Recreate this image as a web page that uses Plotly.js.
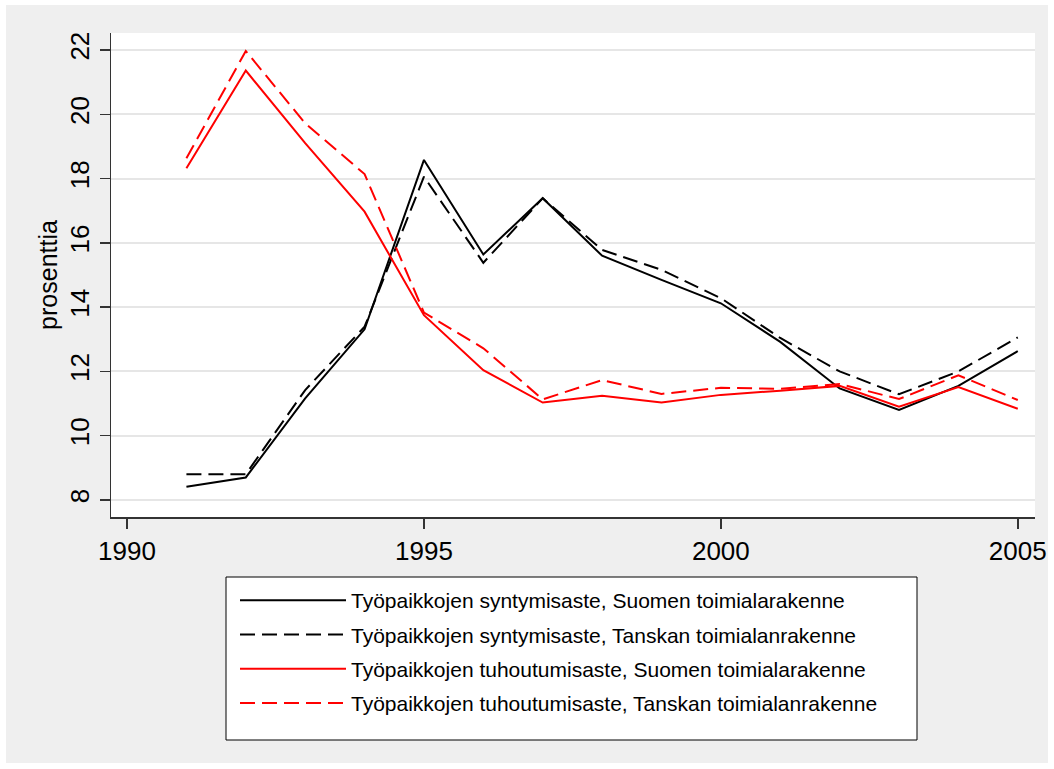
<!DOCTYPE html>
<html>
<head>
<meta charset="utf-8">
<script src="https://cdn.plot.ly/plotly-3.0.1.min.js"></script>
<style>
  html, body { margin: 0; padding: 0; background: #ffffff; }
  #chart { position: absolute; left: 6px; top: 5px; width: 1042px; height: 758px; }
</style>
</head>
<body>
<div id="chart"></div>
<script>
const years = [1991, 1992, 1993, 1994, 1995, 1996, 1997, 1998, 1999, 2000, 2001, 2002, 2003, 2004, 2005];
const birthFI = [8.41, 8.70, 11.16, 13.31, 18.58, 15.64, 17.39, 15.60, 14.85, 14.12, 12.92, 11.47, 10.80, 11.55, 12.63];
const birthDK = [8.80, 8.80, 11.42, 13.39, 18.06, 15.38, 17.39, 15.78, 15.16, 14.28, 13.04, 12.00, 11.29, 12.00, 13.06];
const destFI = [18.32, 21.36, 19.10, 16.97, 13.75, 12.04, 11.03, 11.24, 11.03, 11.27, 11.40, 11.55, 10.90, 11.51, 10.84];
const destDK = [18.63, 21.97, 19.72, 18.14, 13.83, 12.72, 11.13, 11.73, 11.30, 11.49, 11.46, 11.61, 11.14, 11.88, 11.11];
const seriesNames = [
  "Työpaikkojen syntymisaste, Suomen toimialarakenne",
  "Työpaikkojen syntymisaste, Tanskan toimialanrakenne",
  "Työpaikkojen tuhoutumisaste, Suomen toimialarakenne",
  "Työpaikkojen tuhoutumisaste, Tanskan toimialanrakenne"
];
const xTicks = [1990, 1995, 2000, 2005];
const yTicks = [8, 10, 12, 14, 16, 18, 20, 22];
const yTitle = "prosenttia";

const FONT = "Liberation Sans, Arial, Helvetica, sans-serif";
const DASH = "15px,7px";

const W = 1042, H = 758;
const M = {l: 105, r: 13, t: 28, b: 246};
const PW = W - M.l - M.r, PH = H - M.t - M.b;
// convert container pixel (relative to the div) to paper fraction
const px = v => (v - M.l) / PW;
const py = v => 1 - (v - M.t) / PH;

const traces = [
  {y: birthFI, name: seriesNames[0], line: {color: "#000000", width: 2, dash: "solid"}, legendgroup: "g1"},
  {y: birthDK, name: seriesNames[1], line: {color: "#000000", width: 2, dash: DASH}, legendgroup: "g2"},
  {y: destFI, name: seriesNames[2], line: {color: "#ff0000", width: 2, dash: "solid"}, legendgroup: "g3"},
  {y: destDK, name: seriesNames[3], line: {color: "#ff0000", width: 2, dash: DASH}, legendgroup: "g4"}
].map(t => Object.assign({x: years, type: "scatter", mode: "lines", hoverinfo: "skip"}, t));

const layout = {
  width: W,
  height: H,
  paper_bgcolor: "#efefef",
  plot_bgcolor: "#ffffff",
  margin: {l: M.l, r: M.r, t: M.t, b: M.b, pad: 0, autoexpand: false},
  font: {family: FONT, color: "#000000", size: 25},
  showlegend: true,
  legend: {
    x: px(221), xanchor: "left",
    y: py(575), yanchor: "top",
    bgcolor: "rgba(0,0,0,0)",
    borderwidth: 0,
    font: {family: FONT, size: 21, color: "#000000"},
    itemwidth: 106,
    indentation: 8,
    tracegroupgap: 4,
    traceorder: "grouped"
  },
  shapes: [{
    type: "rect", xref: "paper", yref: "paper", layer: "below",
    x0: px(220), x1: px(911), y0: py(572), y1: py(735),
    line: {color: "#000000", width: 1}, fillcolor: "#ffffff"
  }],
  xaxis: {
    range: [1989.73, 2005.29],
    tickmode: "array",
    tickvals: xTicks,
    ticktext: xTicks.map(String),
    tickangle: 0,
    showgrid: false,
    zeroline: false,
    showline: true,
    linecolor: "#333333",
    linewidth: 1.5,
    ticks: "outside",
    ticklen: 10,
    tickwidth: 1.5,
    tickcolor: "#333333",
    tickfont: {family: FONT, size: 26, color: "#000000"},
    fixedrange: true
  },
  yaxis: {
    range: [7.47, 22.53],
    tickmode: "array",
    tickvals: yTicks,
    ticktext: yTicks.map(String),
    tickangle: -90,
    showgrid: true,
    gridcolor: "#e6e6e6",
    gridwidth: 2,
    zeroline: false,
    showline: true,
    linecolor: "#333333",
    linewidth: 1.5,
    ticks: "outside",
    ticklen: 10,
    tickwidth: 1.5,
    tickcolor: "#333333",
    tickfont: {family: FONT, size: 26, color: "#000000"},
    title: {text: yTitle, font: {family: FONT, size: 25, color: "#000000"}, standoff: 0},
    fixedrange: true
  }
};

Plotly.newPlot("chart", traces, layout, {displayModeBar: false, staticPlot: true});
</script>
</body>
</html>
